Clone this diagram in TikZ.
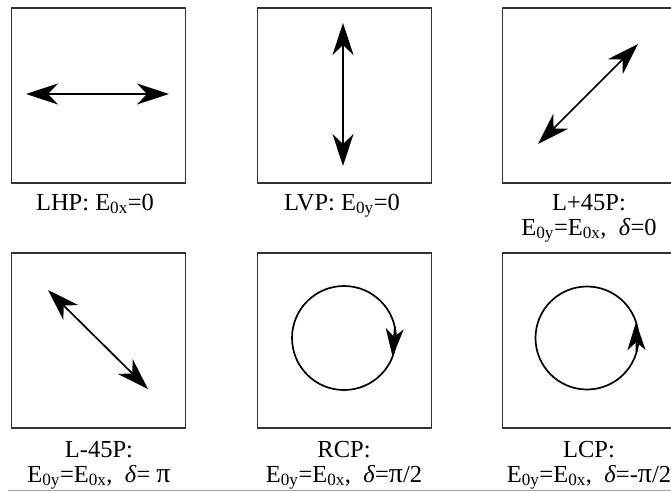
\documentclass[tikz,border=0pt]{standalone}
\usepackage{fontspec}
\setmainfont{Liberation Serif}
\usetikzlibrary{arrows.meta,positioning,calc}
\newcommand{\polpi}{{\fontsize{28}{28}\selectfont π}}
\begin{document}
\begin{tikzpicture}[x=1pt,y=-1pt,
		panel/.style={draw=black!80,line width=1.3pt,minimum width=174pt,minimum height=175pt,inner sep=0pt},
		lin/.style={line width=1.7pt,{Stealth[length=32pt,width=21pt,inset=10pt]}-{Stealth[length=32pt,width=21pt,inset=10pt]}},
		circ/.style={line width=1.7pt},
		circtip/.style={line width=1.7pt,-{Stealth[length=28pt,width=18pt,inset=8pt]}},
		tag/.style={font=\fontsize{24.5}{25}\selectfont,align=center,anchor=base,inner sep=0pt}]
				\clip (0,0) rectangle (671,492);
				% panels
				\node[panel] (lhp) at (98.5,95.5) {};
				\node[panel] (lvp) at (344.5,95.5) {};
				\node[panel] (lp45) at (589.5,95.5) {};
				\node[panel] (lm45) at (98.5,340.5) {};
				\node[panel] (rcp) at (344.5,340.5) {};
				\node[panel] (lcp) at (589.5,340.5) {};
				% linear states
				\draw[lin] ($(lhp.center)+(-72.5,-1.5)$) -- ($(lhp.center)+(70.5,-1.5)$);
				\draw[lin] ($(lvp.center)+(-1.5,-72.5)$) -- ($(lvp.center)+(-1.5,70.5)$);
				\draw[lin] ($(lp45.center)+(-51.5,48.5)$) -- ($(lp45.center)+(48.5,-51.5)$);
				\draw[lin] ($(lm45.center)+(-50.5,-50.5)$) -- ($(lm45.center)+(49.5,48.5)$);
				% circular states
				\coordinate (rc) at (344,338);
				\coordinate (lc) at (587,338);
				\draw[circ] (rc) circle[radius=52pt];
				\draw[circtip] ($(rc)+(-12:52)$) -- ($(rc)+(21:52)$);
				\draw[circ] (lc) circle[radius=51.5pt];
				\draw[circtip] ($(lc)+(16:51.5)$) -- ($(lc)+(-18:51.5)$);
				% labels (base = last line)
				\node[tag] (tlhp) at (95,210) {LHP: E\textsubscript{0x}=0};
				\node[tag] (tlvp) at (342,210) {LVP: E\textsubscript{0y}=0};
				\node[tag] (tlp45) at (589,235) {L+45P:\\E\textsubscript{0y}=E\textsubscript{0x},\enspace\textit{δ}=0};
				\node[tag] (tlm45) at (99,482) {L-45P:\\E\textsubscript{0y}=E\textsubscript{0x},\enspace\textit{δ}= \polpi};
				\node[tag] (trcp) at (344,482) {RCP:\\E\textsubscript{0y}=E\textsubscript{0x},\enspace\textit{δ}=\polpi/2};
				\node[tag] (tlcp) at (589,482) {LCP:\\E\textsubscript{0y}=E\textsubscript{0x},\enspace\textit{δ}=-\polpi/2};
				\draw[black!35,line width=0.8pt] (8,490.7) -- (671,490.7);
\end{tikzpicture}
\end{document}
